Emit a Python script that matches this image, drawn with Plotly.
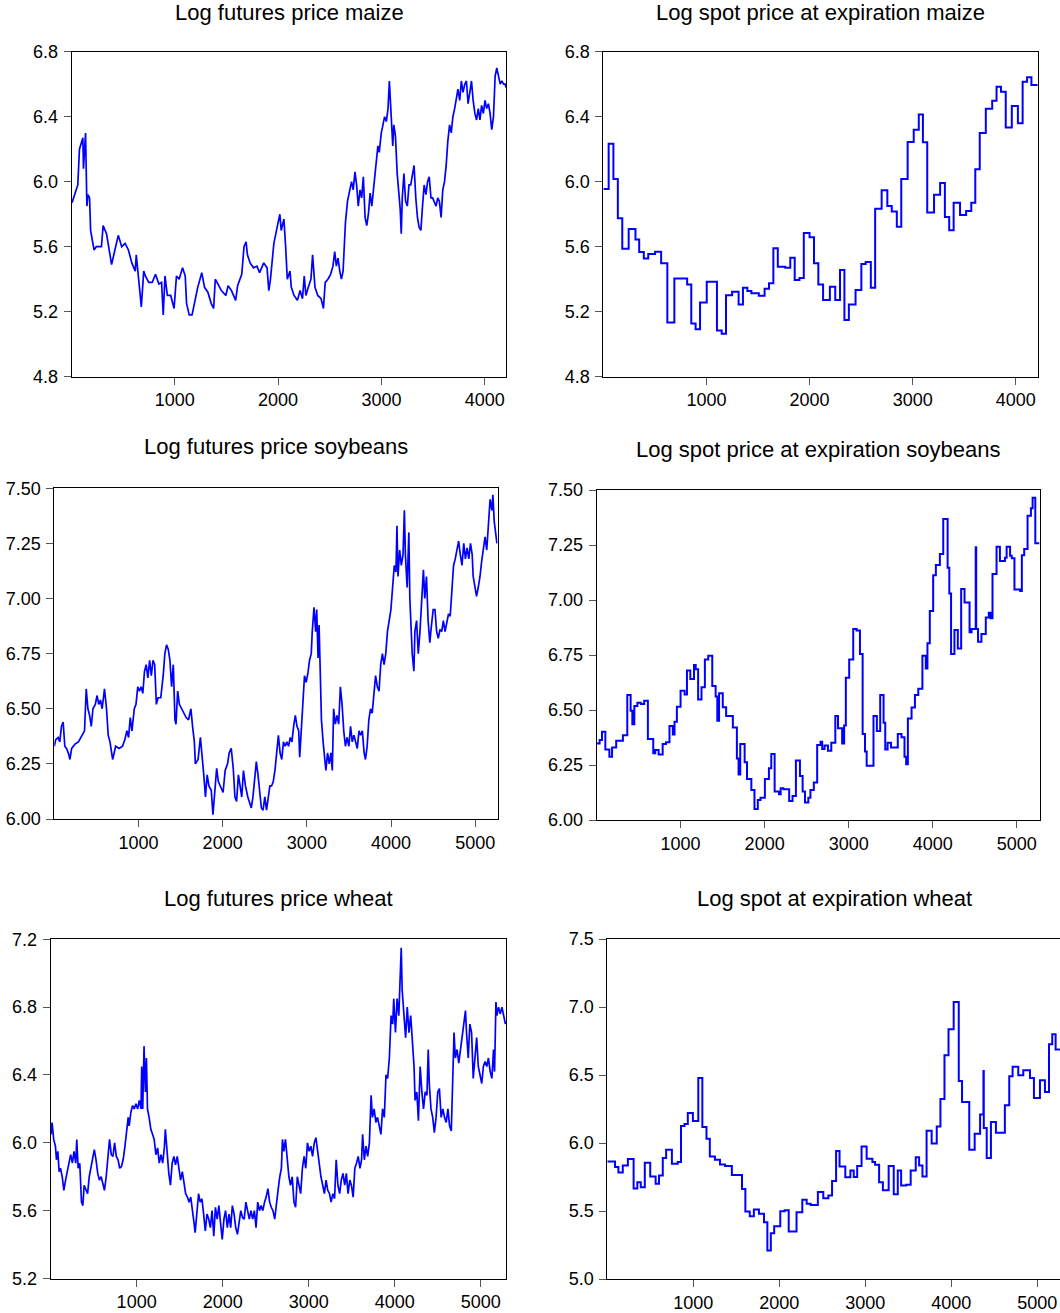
import plotly.graph_objects as go

# ---------------- data ----------------
maize_fut_x = [
    5, 61, 77, 110, 116, 136, 149, 159, 175, 185,
    218, 240, 290, 306, 339, 371, 388, 420, 453, 486,
    519, 551, 584, 617, 627, 650, 676, 699, 715, 748,
    781, 813, 846, 872, 888, 905, 928, 960, 993, 1016,
    1042, 1075, 1101, 1114, 1140, 1167, 1190, 1222, 1261, 1288,
    1320, 1353, 1376, 1392, 1418, 1451, 1494, 1516, 1549, 1589,
    1608, 1648, 1670, 1690, 1703, 1729, 1762, 1795, 1821, 1844,
    1861, 1893, 1910, 1926, 1959, 1991, 2017, 2030, 2056, 2073,
    2089, 2115, 2128, 2154, 2187, 2213, 2236, 2253, 2269, 2292,
    2318, 2334, 2357, 2384, 2416, 2439, 2456, 2482, 2508, 2531,
    2548, 2564, 2580, 2597, 2613, 2629, 2652, 2672, 2695, 2711,
    2727, 2744, 2760, 2776, 2793, 2809, 2825, 2842, 2858, 2874,
    2891, 2907, 2923, 2940, 2966, 2979, 2999, 3015, 3031, 3048,
    3064, 3077, 3094, 3110, 3120, 3136, 3153, 3169, 3182, 3192,
    3202, 3218, 3234, 3251, 3267, 3284, 3300, 3316, 3333, 3349,
    3365, 3382, 3398, 3414, 3431, 3447, 3463, 3480, 3496, 3512,
    3529, 3545, 3561, 3578, 3594, 3611, 3627, 3643, 3660, 3676,
    3692, 3709, 3725, 3741, 3758, 3774, 3790, 3807, 3823, 3839,
    3856, 3872, 3888, 3905, 3921, 3938, 3954, 3970, 3987, 4003,
    4019, 4036, 4052, 4068, 4085, 4101, 4117, 4134, 4150, 4166,
    4183, 4199, 4206]
maize_fut_y = [
    5.87, 5.98, 6.20, 6.27, 6.08, 6.30, 5.85, 5.92, 5.90, 5.70,
    5.58, 5.60, 5.60, 5.73, 5.68, 5.55, 5.49, 5.58, 5.67, 5.60,
    5.62, 5.58, 5.50, 5.45, 5.55, 5.40, 5.23, 5.45, 5.42, 5.38,
    5.38, 5.43, 5.37, 5.38, 5.18, 5.42, 5.30, 5.30, 5.22, 5.42,
    5.40, 5.47, 5.42, 5.25, 5.18, 5.18, 5.25, 5.35, 5.44, 5.35,
    5.32, 5.25, 5.22, 5.40, 5.37, 5.33, 5.30, 5.36, 5.33, 5.27,
    5.36, 5.43, 5.60, 5.63, 5.55, 5.50, 5.47, 5.48, 5.44, 5.47,
    5.50, 5.47, 5.33, 5.40, 5.62, 5.72, 5.80, 5.70, 5.77, 5.60,
    5.40, 5.45, 5.35, 5.30, 5.27, 5.33, 5.28, 5.42, 5.30, 5.35,
    5.40, 5.55, 5.35, 5.30, 5.28, 5.22, 5.38, 5.40, 5.43, 5.48,
    5.57, 5.48, 5.53, 5.45, 5.40, 5.45, 5.75, 5.88, 5.95, 6.00,
    5.95, 6.06, 5.98, 5.85, 5.95, 5.90, 6.03, 5.78, 5.73, 5.80,
    5.93, 5.85, 5.95, 6.05, 6.22, 6.18, 6.30, 6.35, 6.40, 6.37,
    6.45, 6.62, 6.45, 6.22, 6.35, 6.28, 6.05, 5.95, 5.83, 5.68,
    5.90, 6.05, 5.88, 5.85, 5.98, 5.98, 6.05, 6.10, 5.90, 5.78,
    5.72, 5.70, 5.85, 5.98, 5.92, 6.00, 6.03, 5.90, 5.90, 5.88,
    5.85, 5.90, 5.88, 5.78, 5.95, 6.00, 6.10, 6.25, 6.35, 6.30,
    6.40, 6.45, 6.50, 6.57, 6.50, 6.62, 6.55, 6.60, 6.62, 6.48,
    6.55, 6.62, 6.50, 6.42, 6.38, 6.45, 6.38, 6.47, 6.42, 6.50,
    6.45, 6.48, 6.42, 6.32, 6.40, 6.65, 6.70, 6.65, 6.60, 6.62,
    6.60, 6.60, 6.58]

maize_spot_x = [
    1, 52, 98, 141, 184, 246, 312, 348, 393, 436,
    502, 561, 621, 689, 813, 853, 895, 938, 1003, 1102,
    1148, 1190, 1249, 1312, 1354, 1397, 1436, 1508, 1564, 1607,
    1649, 1692, 1764, 1813, 1856, 1902, 1944, 2000, 2043, 2085,
    2131, 2197, 2249, 2295, 2338, 2381, 2446, 2502, 2544, 2594,
    2636, 2699, 2754, 2797, 2846, 2889, 2951, 3010, 3059, 3099,
    3141, 3207, 3266, 3312, 3354, 3397, 3459, 3518, 3568, 3607,
    3650, 3709, 3771, 3813, 3856, 3902, 3961, 4020, 4066, 4109,
    4151, 4213]
maize_spot_y = [
    5.955, 6.234, 6.017, 5.775, 5.588, 5.709, 5.645, 5.567, 5.528, 5.555,
    5.569, 5.498, 5.133, 5.405, 5.368, 5.128, 5.092, 5.256, 5.385, 5.085,
    5.065, 5.301, 5.323, 5.245, 5.348, 5.327, 5.313, 5.298, 5.342, 5.375,
    5.590, 5.477, 5.471, 5.532, 5.395, 5.407, 5.684, 5.658, 5.498, 5.368,
    5.272, 5.354, 5.272, 5.457, 5.149, 5.245, 5.334, 5.494, 5.506, 5.348,
    5.834, 5.947, 5.850, 5.816, 5.723, 6.017, 6.244, 6.320, 6.414, 6.242,
    5.811, 5.920, 5.992, 5.783, 5.701, 5.871, 5.795, 5.820, 5.871, 6.076,
    6.300, 6.449, 6.498, 6.585, 6.554, 6.334, 6.466, 6.359, 6.615, 6.642,
    6.595, 6.595]

soy_fut_x = [
    1, 18, 46, 66, 86, 106, 126, 146, 167, 187,
    207, 247, 287, 328, 360, 380, 400, 420, 440, 460,
    488, 509, 529, 549, 569, 597, 621, 641, 662, 682,
    694, 730, 770, 811, 839, 863, 883, 903, 923, 951,
    971, 992, 1012, 1032, 1052, 1072, 1092, 1112, 1133, 1153,
    1173, 1193, 1213, 1233, 1265, 1294, 1314, 1334, 1354, 1374,
    1394, 1414, 1434, 1446, 1466, 1486, 1515, 1535, 1567, 1595,
    1623, 1643, 1664, 1676, 1708, 1736, 1756, 1776, 1796, 1816,
    1837, 1865, 1885, 1905, 1929, 1949, 1977, 2005, 2030, 2058,
    2078, 2102, 2126, 2146, 2166, 2187, 2207, 2227, 2247, 2271,
    2299, 2319, 2340, 2360, 2380, 2400, 2420, 2440, 2460, 2480,
    2501, 2521, 2541, 2561, 2581, 2601, 2621, 2642, 2662, 2682,
    2702, 2722, 2742, 2762, 2783, 2803, 2823, 2843, 2863, 2883,
    2903, 2915, 2936, 2956, 2972, 2992, 3012, 3032, 3052, 3064,
    3085, 3105, 3117, 3133, 3145, 3157, 3173, 3193, 3213, 3226,
    3246, 3266, 3286, 3302, 3318, 3338, 3358, 3378, 3398, 3418,
    3438, 3458, 3478, 3499, 3519, 3539, 3559, 3579, 3599, 3619,
    3639, 3659, 3680, 3696, 3716, 3736, 3756, 3776, 3796, 3816,
    3837, 3857, 3877, 3897, 3917, 3937, 3957, 3977, 3998, 4018,
    4038, 4058, 4070, 4082, 4102, 4122, 4142, 4158, 4170, 4191,
    4211, 4223, 4235, 4251, 4271, 4283, 4303, 4323, 4343, 4364,
    4384, 4400, 4420, 4440, 4460, 4480, 4500, 4521, 4541, 4561,
    4581, 4601, 4621, 4641, 4661, 4682, 4702, 4722, 4742, 4762,
    4782, 4802, 4822, 4842, 4863, 4883, 4903, 4923, 4943, 4963,
    4975, 4995, 5015, 5035, 5056, 5076, 5096, 5116, 5136, 5156,
    5176, 5197, 5209, 5225, 5245, 5257]
soy_fut_y = [
    6.33, 6.36, 6.37, 6.35, 6.42, 6.44, 6.33, 6.32, 6.30, 6.27,
    6.32, 6.34, 6.35, 6.38, 6.40, 6.59, 6.50, 6.47, 6.42, 6.50,
    6.52, 6.56, 6.52, 6.54, 6.50, 6.59, 6.50, 6.38, 6.35, 6.30,
    6.27, 6.33, 6.32, 6.33, 6.36, 6.40, 6.37, 6.46, 6.40, 6.50,
    6.52, 6.60, 6.58, 6.60, 6.57, 6.67, 6.70, 6.64, 6.72, 6.65,
    6.72, 6.70, 6.52, 6.55, 6.55, 6.65, 6.75, 6.79, 6.77, 6.72,
    6.60, 6.70, 6.45, 6.43, 6.58, 6.52, 6.50, 6.48, 6.46, 6.45,
    6.50, 6.42, 6.35, 6.25, 6.27, 6.37, 6.30, 6.20, 6.10, 6.20,
    6.15, 6.13, 6.02, 6.12, 6.23, 6.17, 6.14, 6.12, 6.22, 6.25,
    6.30, 6.32, 6.23, 6.10, 6.08, 6.20, 6.15, 6.10, 6.22, 6.15,
    6.10, 6.08, 6.05, 6.10, 6.18, 6.26, 6.20, 6.12, 6.05, 6.04,
    6.10, 6.04, 6.09, 6.15, 6.15, 6.17, 6.22, 6.30, 6.38, 6.30,
    6.27, 6.35, 6.33, 6.35, 6.33, 6.37, 6.35, 6.42, 6.47, 6.42,
    6.40, 6.28, 6.42, 6.55, 6.65, 6.62, 6.66, 6.72, 6.75, 6.85,
    6.96, 6.85, 6.95, 6.73, 6.88, 6.70, 6.45, 6.35, 6.25, 6.22,
    6.30, 6.25, 6.30, 6.22, 6.50, 6.43, 6.47, 6.43, 6.60, 6.52,
    6.40, 6.33, 6.37, 6.33, 6.42, 6.35, 6.38, 6.35, 6.32, 6.40,
    6.38, 6.40, 6.30, 6.27, 6.33, 6.45, 6.50, 6.48, 6.58, 6.65,
    6.60, 6.58, 6.70, 6.75, 6.70, 6.75, 6.85, 6.90, 6.95, 7.05,
    7.15, 7.12, 7.33, 7.10, 7.22, 7.15, 7.20, 7.40, 7.20, 7.05,
    7.30, 7.00, 6.85, 6.75, 6.67, 6.85, 6.90, 6.75, 6.85, 7.00,
    7.13, 7.00, 7.10, 6.90, 6.80, 6.88, 6.95, 6.95, 6.85, 6.82,
    6.86, 6.85, 6.90, 6.85, 6.90, 6.93, 6.92, 7.05, 7.15, 7.18,
    7.22, 7.26, 7.20, 7.15, 7.25, 7.18, 7.23, 7.18, 7.25, 7.20,
    7.10, 7.05, 7.01, 7.05, 7.10, 7.17, 7.22, 7.28, 7.22, 7.35,
    7.45, 7.40, 7.47, 7.35, 7.30, 7.25]

soy_spot_x = [
    1, 37, 65, 105, 153, 185, 234, 314, 366, 406,
    426, 450, 486, 527, 567, 611, 675, 699, 739, 787,
    827, 868, 908, 928, 956, 1000, 1048, 1076, 1116, 1160,
    1180, 1209, 1249, 1289, 1329, 1377, 1417, 1437, 1458, 1502,
    1542, 1622, 1670, 1690, 1710, 1762, 1790, 1842, 1879, 1919,
    1951, 2003, 2051, 2079, 2119, 2171, 2191, 2223, 2292, 2332,
    2372, 2420, 2452, 2480, 2520, 2545, 2585, 2625, 2665, 2685,
    2713, 2753, 2793, 2841, 2873, 2922, 2946, 2966, 3006, 3054,
    3094, 3134, 3166, 3194, 3214, 3295, 3335, 3375, 3415, 3435,
    3463, 3503, 3584, 3628, 3664, 3684, 3704, 3748, 3788, 3828,
    3877, 3917, 3937, 3965, 4005, 4037, 4085, 4125, 4177, 4197,
    4218, 4258, 4298, 4338, 4378, 4438, 4462, 4511, 4517, 4539,
    4579, 4631, 4667, 4687, 4711, 4759, 4799, 4859, 4879, 4920,
    4940, 4972, 5040, 5060, 5088, 5128, 5168, 5188, 5220, 5270]
soy_spot_y = [
    6.348, 6.364, 6.401, 6.321, 6.288, 6.329, 6.360, 6.385, 6.568, 6.497,
    6.435, 6.518, 6.533, 6.527, 6.542, 6.368, 6.303, 6.318, 6.298, 6.345,
    6.353, 6.427, 6.389, 6.447, 6.515, 6.588, 6.571, 6.679, 6.641, 6.705,
    6.685, 6.548, 6.603, 6.730, 6.747, 6.609, 6.561, 6.451, 6.576, 6.512,
    6.473, 6.420, 6.280, 6.207, 6.345, 6.262, 6.186, 6.136, 6.050, 6.091,
    6.101, 6.186, 6.235, 6.300, 6.129, 6.117, 6.144, 6.140, 6.086, 6.109,
    6.270, 6.200, 6.129, 6.080, 6.101, 6.136, 6.170, 6.341, 6.356, 6.323,
    6.339, 6.315, 6.351, 6.473, 6.417, 6.348, 6.429, 6.647, 6.730, 6.868,
    6.861, 6.755, 6.391, 6.311, 6.247, 6.473, 6.404, 6.568, 6.442, 6.321,
    6.351, 6.330, 6.391, 6.376, 6.288, 6.253, 6.461, 6.511, 6.568, 6.597,
    6.747, 6.689, 6.803, 6.950, 7.112, 7.159, 7.209, 7.368, 7.147, 7.030,
    6.755, 6.864, 6.780, 7.050, 6.989, 6.853, 6.868, 7.240, 6.868, 6.810,
    6.845, 6.920, 6.942, 6.917, 7.118, 7.242, 7.177, 7.192, 7.242, 7.201,
    7.190, 7.048, 7.041, 7.203, 7.232, 7.383, 7.417, 7.465, 7.258, 7.258]

wheat_fut_x = [
    5, 17, 36, 56, 68, 84, 99, 115, 135, 154,
    174, 194, 213, 233, 253, 272, 292, 304, 320, 339,
    359, 375, 390, 410, 430, 449, 469, 489, 508, 528,
    548, 567, 587, 607, 626, 646, 666, 685, 705, 725,
    744, 764, 784, 803, 823, 843, 862, 882, 902, 913,
    933, 953, 972, 992, 1012, 1031, 1051, 1059, 1071, 1086,
    1102, 1114, 1126, 1145, 1165, 1185, 1204, 1224, 1244, 1263,
    1283, 1303, 1322, 1334, 1354, 1374, 1393, 1413, 1433, 1452,
    1472, 1492, 1511, 1531, 1551, 1570, 1590, 1610, 1629, 1649,
    1669, 1680, 1700, 1720, 1739, 1759, 1779, 1798, 1818, 1838,
    1857, 1877, 1897, 1916, 1936, 1956, 1975, 1995, 2015, 2034,
    2054, 2074, 2093, 2113, 2133, 2152, 2172, 2192, 2211, 2231,
    2251, 2270, 2290, 2310, 2329, 2349, 2369, 2388, 2408, 2428,
    2447, 2467, 2487, 2506, 2526, 2546, 2565, 2585, 2605, 2624,
    2644, 2664, 2683, 2695, 2711, 2730, 2750, 2770, 2789, 2809,
    2829, 2848, 2868, 2888, 2907, 2927, 2947, 2966, 2986, 3006,
    3025, 3045, 3065, 3084, 3104, 3124, 3143, 3163, 3183, 3202,
    3222, 3242, 3261, 3281, 3301, 3320, 3340, 3360, 3379, 3399,
    3419, 3438, 3458, 3478, 3497, 3517, 3537, 3556, 3576, 3596,
    3615, 3627, 3647, 3667, 3686, 3706, 3726, 3741, 3761, 3781,
    3800, 3820, 3840, 3859, 3879, 3899, 3918, 3938, 3958, 3977,
    3989, 4009, 4028, 4048, 4060, 4076, 4087, 4107, 4127, 4146,
    4166, 4186, 4205, 4225, 4237, 4257, 4276, 4296, 4316, 4335,
    4355, 4375, 4390, 4402, 4422, 4442, 4461, 4481, 4501, 4520,
    4540, 4560, 4579, 4599, 4619, 4638, 4658, 4678, 4690, 4705,
    4725, 4745, 4764, 4784, 4804, 4823, 4835, 4855, 4874, 4894,
    4913, 4933, 4953, 4972, 4992, 5012, 5031, 5051, 5071, 5090,
    5110, 5130, 5149, 5161, 5177, 5188, 5208, 5228, 5247, 5267,
    5287]
wheat_fut_y = [
    6.05, 6.12, 6.02, 5.98, 5.90, 5.95, 5.83, 5.85, 5.80, 5.72,
    5.78, 5.83, 5.88, 5.93, 5.88, 5.95, 5.88, 6.02, 5.85, 5.88,
    5.65, 5.63, 5.75, 5.72, 5.70, 5.80, 5.85, 5.90, 5.96, 5.90,
    5.82, 5.78, 5.80, 5.76, 5.72, 5.80, 5.90, 6.02, 5.93, 5.92,
    6.00, 5.92, 5.90, 5.85, 5.86, 5.90, 5.97, 6.05, 6.15, 6.10,
    6.18, 6.22, 6.20, 6.23, 6.20, 6.25, 6.20, 6.45, 6.20, 6.57,
    6.30, 6.50, 6.20, 6.15, 6.08, 6.05, 6.02, 5.93, 5.97, 5.88,
    5.93, 5.88, 5.97, 6.08, 5.93, 5.82, 5.75, 5.88, 5.92, 5.87,
    5.92, 5.85, 5.78, 5.83, 5.77, 5.70, 5.68, 5.65, 5.68, 5.58,
    5.52, 5.47, 5.60, 5.70, 5.65, 5.67, 5.58, 5.48, 5.58, 5.55,
    5.50, 5.60, 5.45, 5.62, 5.55, 5.63, 5.53, 5.43, 5.55, 5.60,
    5.50, 5.58, 5.50, 5.63, 5.58, 5.50, 5.46, 5.53, 5.60, 5.56,
    5.55, 5.65, 5.60, 5.55, 5.60, 5.55, 5.60, 5.50, 5.65, 5.60,
    5.63, 5.60, 5.65, 5.68, 5.73, 5.65, 5.62, 5.60, 5.55, 5.62,
    5.72, 5.80, 5.85, 6.02, 5.95, 6.02, 5.90, 5.80, 5.75, 5.80,
    5.65, 5.62, 5.80, 5.75, 5.70, 5.85, 5.92, 5.85, 6.00, 5.95,
    5.98, 5.92, 6.00, 6.03, 5.95, 5.90, 5.80, 5.75, 5.70, 5.78,
    5.72, 5.70, 5.65, 5.70, 5.67, 5.90, 5.75, 5.70, 5.78, 5.82,
    5.75, 5.82, 5.70, 5.78, 5.75, 5.68, 5.85, 5.88, 5.92, 5.85,
    5.90, 6.05, 5.90, 5.98, 5.92, 6.00, 6.28, 6.15, 6.20, 6.12,
    6.15, 6.10, 6.05, 6.20, 6.15, 6.40, 6.38, 6.50, 6.75, 6.70,
    6.85, 6.65, 6.85, 6.75, 6.98, 7.15, 6.90, 6.75, 6.62, 6.80,
    6.65, 6.75, 6.60, 6.45, 6.25, 6.30, 6.13, 6.45, 6.30, 6.20,
    6.30, 6.28, 6.55, 6.35, 6.20, 6.15, 6.06, 6.15, 6.30, 6.32,
    6.15, 6.20, 6.15, 6.12, 6.20, 6.10, 6.07, 6.45, 6.65, 6.50,
    6.55, 6.47, 6.55, 6.60, 6.70, 6.78, 6.65, 6.50, 6.70, 6.65,
    6.38, 6.50, 6.62, 6.45, 6.40, 6.35, 6.45, 6.48, 6.45, 6.50,
    6.42, 6.38, 6.55, 6.42, 6.83, 6.75, 6.80, 6.76, 6.80, 6.75,
    6.70]

wheat_spot_x = [
    1, 91, 130, 181, 240, 307, 350, 390, 437, 500,
    563, 602, 646, 685, 752, 819, 858, 898, 937, 996,
    1059, 1106, 1154, 1193, 1252, 1311, 1370, 1449, 1567, 1606,
    1657, 1705, 1764, 1823, 1862, 1902, 1941, 2012, 2063, 2110,
    2201, 2268, 2319, 2366, 2449, 2512, 2571, 2614, 2661, 2701,
    2768, 2827, 2866, 2906, 2957, 3016, 3083, 3114, 3161, 3205,
    3272, 3331, 3378, 3417, 3476, 3528, 3587, 3626, 3665, 3713,
    3772, 3831, 3874, 3921, 3968, 4028, 4087, 4125, 4209, 4272,
    4335, 4374, 4378, 4412, 4461, 4519, 4623, 4674, 4713, 4779,
    4837, 4915, 4961, 5031, 5089, 5136, 5174, 5213, 5295]
wheat_spot_y = [
    5.864, 5.823, 5.783, 5.835, 5.882, 5.665, 5.712, 5.675, 5.855, 5.754,
    5.700, 5.761, 5.889, 5.950, 5.847, 5.860, 6.125, 6.140, 6.220, 6.162,
    6.478, 6.117, 6.031, 5.901, 5.877, 5.842, 5.830, 5.764, 5.661, 5.496,
    5.462, 5.511, 5.479, 5.417, 5.209, 5.336, 5.388, 5.499, 5.506, 5.349,
    5.491, 5.582, 5.553, 5.545, 5.639, 5.594, 5.614, 5.720, 5.941, 5.828,
    5.749, 5.798, 5.750, 5.830, 5.975, 5.884, 5.860, 5.840, 5.712, 5.653,
    5.830, 5.624, 5.798, 5.688, 5.693, 5.798, 5.896, 5.835, 5.754, 6.090,
    5.997, 6.122, 6.324, 6.645, 6.837, 7.036, 6.456, 6.302, 5.950, 6.068,
    6.210, 6.530, 6.110, 5.889, 6.154, 6.076, 6.277, 6.491, 6.560, 6.498,
    6.535, 6.478, 6.331, 6.461, 6.375, 6.726, 6.800, 6.687, 6.687]

titles = ["Log futures price maize", "Log spot price at expiration maize",
          "Log futures price soybeans", "Log spot price at expiration soybeans",
          "Log futures price wheat", "Log spot at expiration wheat"]

maize_yticks = [4.8, 5.2, 5.6, 6.0, 6.4, 6.8]
soy_yticks = [6.00, 6.25, 6.50, 6.75, 7.00, 7.25, 7.50]
wheat_fut_yticks = [5.2, 5.6, 6.0, 6.4, 6.8, 7.2]
wheat_spot_yticks = [5.0, 5.5, 6.0, 6.5, 7.0, 7.5]
maize_xticks = [1000, 2000, 3000, 4000]
long_xticks = [1000, 2000, 3000, 4000, 5000]

series = [
    (maize_fut_x, maize_fut_y, "linear"),
    (maize_spot_x, maize_spot_y, "hv"),
    (soy_fut_x, soy_fut_y, "linear"),
    (soy_spot_x, soy_spot_y, "hv"),
    (wheat_fut_x, wheat_fut_y, "linear"),
    (wheat_spot_x, wheat_spot_y, "hv"),
]
for sx, sy, _ in series:
    assert len(sx) == len(sy), (len(sx), len(sy))

# ---------------- layout (pixel geometry of the reference page) ----------------
W, H = 1060, 1313
FONT = "Liberation Sans, Arial, Helvetica, sans-serif"
# page px: (left, right, top, bottom, title-centre-y), x-range, y-range, yticks, fmt, xticks
panels = [
    ((71.6, 506.4, 51.7, 376.7, 12.8), [1, 4210], [4.8, 6.8], maize_yticks, ".1f", maize_xticks),
    ((603.4, 1037.8, 51.7, 376.7, 12.8), [1, 4213], [4.8, 6.8], maize_yticks, ".1f", maize_xticks),
    ((54.3, 497.6, 488.3, 819.0, 446.7), [1, 5265], [6.0, 7.5], soy_yticks, ".2f", long_xticks),
    ((596.6, 1039.5, 490.0, 820.0, 449.0), [1, 5270], [6.0, 7.5], soy_yticks, ".2f", long_xticks),
    ((50.7, 506.0, 939.3, 1278.5, 898.3), [1, 5294], [5.2, 7.2], wheat_fut_yticks, ".1f", long_xticks),
    ((607.3, 1060.0, 939.0, 1279.0, 898.3), [1, 5264], [5.0, 7.5], wheat_spot_yticks, ".1f", long_xticks),
]
title_cx = [289.0, 820.6, 276.0, 818.0, 278.4, 834.5]

fig = go.Figure()
layout = dict(
    width=W, height=H,
    margin=dict(l=0, r=0, t=0, b=0, autoexpand=False),
    paper_bgcolor="white", plot_bgcolor="white",
    showlegend=False,
    font=dict(family=FONT, color="black"),
    annotations=[],
)

def fx(px):
    return px / W

def fy(py):
    return 1 - py / H

for i, ((l, r, t, b, ty), xr, yr, yt, yfmt, xt) in enumerate(panels):
    n = "" if i == 0 else str(i + 1)
    sx, sy, shape = series[i]
    fig.add_trace(go.Scatter(
        x=sx, y=sy, mode="lines",
        line=dict(color="#0000ff", width=2.0 if shape == "hv" else 1.7, shape=shape),
        xaxis="x" + n, yaxis="y" + n, hoverinfo="skip"))
    common = dict(showgrid=False, zeroline=False, showline=True, linecolor="black",
                  linewidth=1, ticks="outside", ticklen=7, tickwidth=1,
                  tickcolor="#555555",
                  tickfont=dict(family=FONT, size=18, color="black"))
    layout["xaxis" + n] = dict(
        domain=[fx(l), min(1.0, fx(r))], range=xr, anchor="y" + n,
        tickvals=xt, tickformat="d", mirror=True, **common)
    layout["yaxis" + n] = dict(
        domain=[fy(b), fy(t)], range=yr, anchor="x" + n,
        tickvals=yt, tickformat=yfmt, mirror=(i != 5), ticklabelstandoff=2, **common)
    layout["annotations"].append(dict(
        text=titles[i], xref="paper", yref="paper",
        x=fx(title_cx[i]), y=fy(ty), xanchor="center", yanchor="middle",
        showarrow=False, font=dict(family=FONT, size=22, color="black")))

fig.update_layout(**layout)
# place the figure flush with the window (no default page margin, no scrollbars)
fig.write_html(
    "out.html",
    config={"displayModeBar": False},
    post_script="document.body.style.margin='0px';"
                "document.documentElement.style.overflow='hidden';"
                "document.body.style.overflow='hidden';")
